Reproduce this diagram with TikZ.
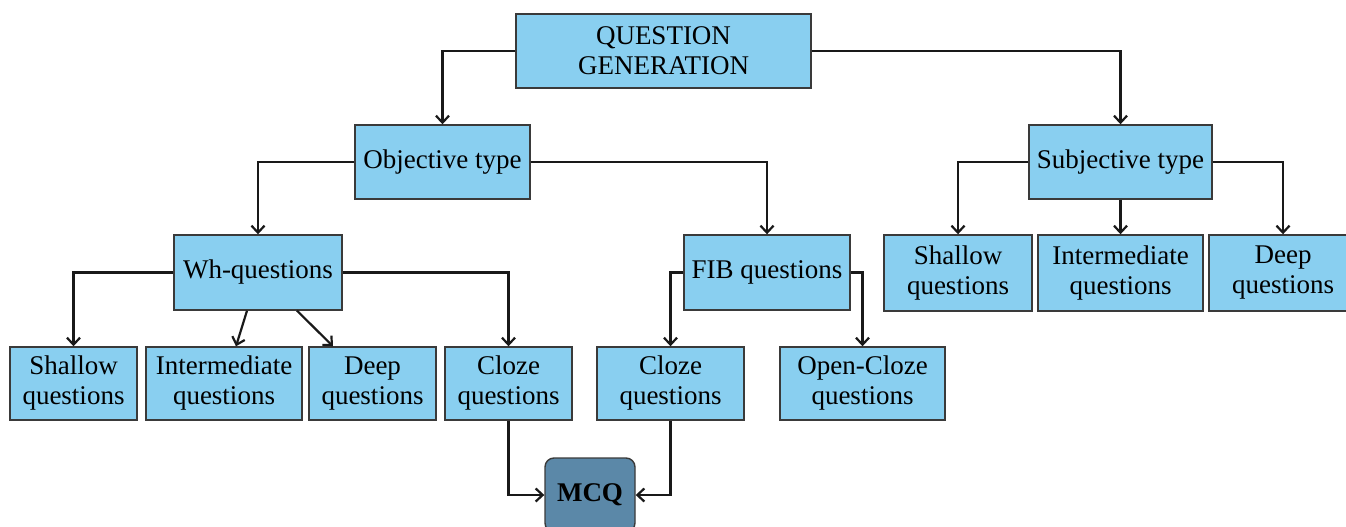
\documentclass[tikz,border=0pt]{standalone}
\usepackage{fontspec}
\setmainfont{Liberation Serif}
\usetikzlibrary{arrows.meta}
\definecolor{boxblue}{HTML}{89CFF0}
\definecolor{mcqblue}{HTML}{5B88A8}
\definecolor{boxline}{HTML}{3A3A3A}
\tikzset{
  qbox/.style={draw=boxline, line width=1.4pt, fill=boxblue, inner sep=0pt, align=center,
    font=\fontsize{27}{30}\selectfont},
  mcqbox/.style={draw=boxline, line width=1.4pt, fill=mcqblue, rounded corners=9pt, inner sep=0pt,
    align=center, font=\fontsize{27}{30}\selectfont\bfseries},
  conn/.style={draw=black!90, line width=2.2pt, -{Straight Barb[length=7pt,width=13pt]}}
}
\begin{document}
\begin{tikzpicture}[x=1pt,y=-1pt]
\useasboundingbox (0,0) rectangle (1346,527);
\node[qbox, minimum width=295pt, minimum height=74pt] (qg) at (663.5,51) {QUESTION\\GENERATION};
\node[qbox, minimum width=175pt, minimum height=74pt] (obj) at (442.5,162) {Objective type};
\node[qbox, minimum width=183pt, minimum height=74pt] (subj) at (1120.5,162) {Subjective type};
\node[qbox, minimum width=168pt, minimum height=75pt] (wh) at (258,272.5) {Wh-questions};
\node[qbox, minimum width=166pt, minimum height=75pt] (fib) at (767,272.5) {FIB questions};
\node[qbox, minimum width=127pt, minimum height=73pt] (sh1) at (73.5,383.5) {Shallow\\questions};
\node[qbox, minimum width=156pt, minimum height=73pt] (in1) at (224,383.5) {Intermediate\\questions};
\node[qbox, minimum width=127pt, minimum height=73pt] (dp1) at (372.5,383.5) {Deep\\questions};
\node[qbox, minimum width=127pt, minimum height=73pt] (cl1) at (508.5,383.5) {Cloze\\questions};
\node[qbox, minimum width=147pt, minimum height=73pt] (cl2) at (670.5,383.5) {Cloze\\questions};
\node[qbox, minimum width=165pt, minimum height=73pt] (ocl) at (862.5,383.5) {Open-Cloze\\questions};
\node[qbox, minimum width=148pt, minimum height=76pt] (sh2) at (958,273) {Shallow\\questions};
\node[qbox, minimum width=165pt, minimum height=76pt] (in2) at (1120.5,273) {Intermediate\\questions};
\node[qbox, minimum width=148pt, minimum height=76pt] (dp2) at (1283,273) {Deep\\questions};
\node[mcqbox, minimum width=90pt, minimum height=74pt] (mcq) at (590,495) {MCQ};

\draw[conn] (qg.west) -| (obj.north);
\draw[conn] (qg.east) -| (subj.north);
\draw[conn] (obj.west) -| (wh.north);
\draw[conn] (obj.east) -| (fib.north);
\draw[conn] (wh.west) -| (sh1.north);
\draw[conn] (wh.east) -| (cl1.north);
\draw[conn] ([xshift=-11pt]wh.south) -- ([xshift=12pt]in1.north);
\draw[conn] ([xshift=39pt]wh.south) -- ([xshift=-39.5pt]dp1.north);
\draw[conn] (fib.west) -| (cl2.north);
\draw[conn] (fib.east) -| (ocl.north);
\draw[conn] (subj.west) -| (sh2.north);
\draw[conn] (subj.south) -- (in2.north);
\draw[conn] (subj.east) -| (dp2.north);
\draw[conn] (cl1.south) |- (mcq.west);
\draw[conn] (cl2.south) |- (mcq.east);
\end{tikzpicture}
\end{document}
